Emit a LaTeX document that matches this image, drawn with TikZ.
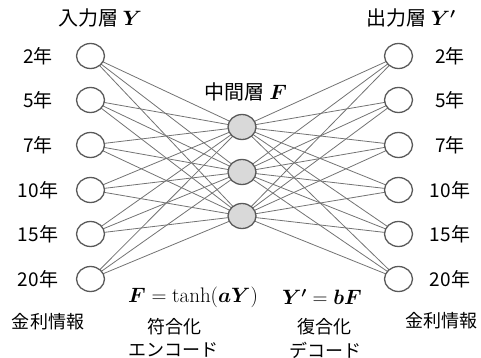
\documentclass[tikz,border=0pt]{standalone}
\usepackage{amsmath}
\usepackage{bm}
\usepackage{fontspec}
\usetikzlibrary{shapes.geometric}
\newfontfamily\jp{Noto Sans CJK JP}
\begin{document}
\begin{tikzpicture}[x=1pt,y=-1pt,
  unit/.style={ellipse,draw=black!65,line width=1.3pt,minimum width=28pt,minimum height=25pt,inner sep=0pt},
  hid/.style={unit,fill=black!15},
  link/.style={draw=black!55,line width=0.8pt},
  lab/.style={font=\jp\fontsize{19}{21}\selectfont,inner sep=0pt},
  ttl/.style={font=\jp\fontsize{20}{22}\selectfont,inner sep=0pt},
  captext/.style={font=\jp\fontsize{18}{20}\selectfont,inner sep=0pt},
  eq/.style={font=\fontsize{21}{24}\selectfont,inner sep=0pt}]
\useasboundingbox (0,0) rectangle (481,358);
% fully connected layers
\foreach \i/\y in {1/56,2/100,3/145,4/190,5/234,6/279}{
  \coordinate (in\i) at (90.5,\y);
  \coordinate (out\i) at (398.5,\y);
}
\foreach \j/\y in {1/127,2/172,3/216}{
  \coordinate (h\j) at (242,\y);
}
\foreach \i in {1,...,6}{
  \foreach \j in {1,2,3}{
    \draw[link] (in\i) -- (h\j);
    \draw[link] (h\j) -- (out\i);
  }
}
% units drawn over the links
\foreach \i/\y/\t in {1/56/2年,2/100/5年,3/145/7年,4/190/10年,5/234/15年,6/279/20年}{
  \node[unit,fill=white] (uin\i) at (in\i) {};
  \node[unit,fill=white] (uout\i) at (out\i) {};
  \node[lab] (lin\i) at (38,\y) {\t};
  \node[lab] (lout\i) at (450,\y) {\t};
}
\foreach \j in {1,2,3}{
  \node[hid] (uh\j) at (h\j) {};
}
% layer titles
\node[ttl] (tin) at (100,18) {入力層 $\bm{Y}$};
\node[ttl] (tout) at (411,18) {出力層 $\bm{Y'}$};
\node[ttl] (thid) at (246,92) {中間層 $\bm{F}$};
% bottom captions
\node[captext] (cin) at (48,322) {金利情報};
\node[captext] (cout) at (441,321) {金利情報};
\node[eq] (enc) at (193,297) {$\bm{F}\mathrel{=}\tanh(\bm{aY})$};
\node[eq] (dec) at (322,297) {$\bm{Y'}\mathrel{=}\bm{bF}$};
\node[captext] (e1) at (174,327) {符合化};
\node[captext] (e2) at (173,350) {エンコード};
\node[captext] (d1) at (324,327) {復合化};
\node[captext] (d2) at (325,350) {デコード};
\end{tikzpicture}
\end{document}
